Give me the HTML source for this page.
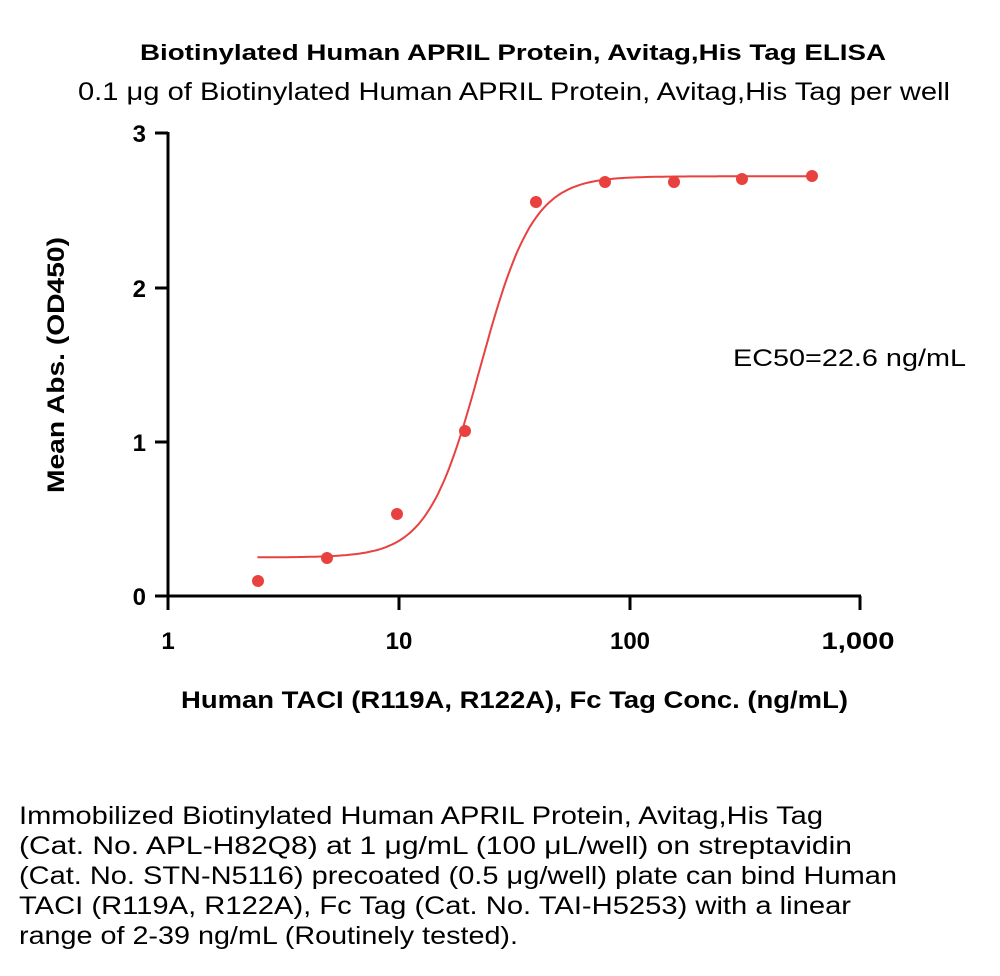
<!DOCTYPE html>
<html><head><meta charset="utf-8"><style>
body{margin:0;background:#fff;}
svg text{font-family:"Liberation Sans",Calibri,sans-serif;fill:#000;}
</style></head><body>
<svg width="1000" height="971" viewBox="0 0 1000 971" xmlns="http://www.w3.org/2000/svg">
<text x="140" y="60" font-size="22" font-weight="bold" textLength="746" lengthAdjust="spacingAndGlyphs">Biotinylated Human APRIL Protein, Avitag,His Tag ELISA</text>
<text x="78" y="100" font-size="25" textLength="872" lengthAdjust="spacingAndGlyphs">0.1 μg of Biotinylated Human APRIL Protein, Avitag,His Tag per well</text>
<g stroke="#000" stroke-width="3" fill="none">
<line x1="168" y1="132" x2="168" y2="597"/>
<line x1="166" y1="596" x2="861" y2="596"/>
<line x1="155" y1="133" x2="168" y2="133"/>
<line x1="155" y1="288" x2="168" y2="288"/>
<line x1="155" y1="442" x2="168" y2="442"/>
<line x1="155" y1="596" x2="168" y2="596"/>
<line x1="168" y1="596" x2="168" y2="610"/>
<line x1="399" y1="596" x2="399" y2="610"/>
<line x1="630" y1="596" x2="630" y2="610"/>
<line x1="860" y1="596" x2="860" y2="610"/>
</g>
<g font-size="24" font-weight="bold" text-anchor="end">
<text x="146" y="142">3</text><text x="146" y="297">2</text><text x="146" y="451">1</text><text x="146" y="605">0</text>
</g>
<g font-size="24" font-weight="bold" text-anchor="middle">
<text x="168" y="649">1</text><text x="399" y="649">10</text><text x="630" y="649">100</text><text x="858" y="649" textLength="73" lengthAdjust="spacingAndGlyphs">1,000</text>
</g>
<text x="181" y="708" font-size="24" font-weight="bold" textLength="667" lengthAdjust="spacingAndGlyphs">Human TACI (R119A, R122A), Fc Tag Conc. (ng/mL)</text>
<text transform="translate(64,493) rotate(-90)" font-size="24" font-weight="bold" textLength="256" lengthAdjust="spacingAndGlyphs">Mean Abs. (OD450)</text>
<text x="733" y="366" font-size="24" textLength="233" lengthAdjust="spacingAndGlyphs">EC50=22.6 ng/mL</text>
<path id="curve" fill="none" stroke="#e8413f" stroke-width="2"/>
<g fill="#e8413f">
<circle cx="258" cy="581" r="6"/><circle cx="327" cy="558" r="6"/><circle cx="397" cy="514" r="6"/>
<circle cx="465" cy="431" r="6"/><circle cx="536" cy="202" r="6"/><circle cx="605" cy="182" r="6"/>
<circle cx="674" cy="182" r="6"/><circle cx="742" cy="179" r="6"/><circle cx="812" cy="176" r="6"/>
</g>
<g font-size="25">
<text x="19" y="824" textLength="804" lengthAdjust="spacingAndGlyphs">Immobilized Biotinylated Human APRIL Protein, Avitag,His Tag</text>
<text x="19" y="854" textLength="833" lengthAdjust="spacingAndGlyphs">(Cat. No. APL-H82Q8) at 1 μg/mL (100 μL/well) on streptavidin</text>
<text x="19" y="884" textLength="878" lengthAdjust="spacingAndGlyphs">(Cat. No. STN-N5116) precoated (0.5 μg/well) plate can bind Human</text>
<text x="19" y="914" textLength="832" lengthAdjust="spacingAndGlyphs">TACI (R119A, R122A), Fc Tag (Cat. No. TAI-H5253) with a linear</text>
<text x="19" y="944" textLength="499" lengthAdjust="spacingAndGlyphs">range of 2-39 ng/mL (Routinely tested).</text>
</g>
</svg>
<script>
var d="";for(var i=0;i<=200;i++){var lx=Math.log10(2.44)+i*(Math.log10(625)-Math.log10(2.44))/200;var x=Math.pow(10,lx);
var y=0.25+2.47/(1+Math.pow(22.6/x,3.8));var px=168+lx*230.7,py=596-y*154.3;d+=(i?"L":"M")+px.toFixed(1)+","+py.toFixed(1);}
document.getElementById("curve").setAttribute("d",d);
</script>
</body></html>
